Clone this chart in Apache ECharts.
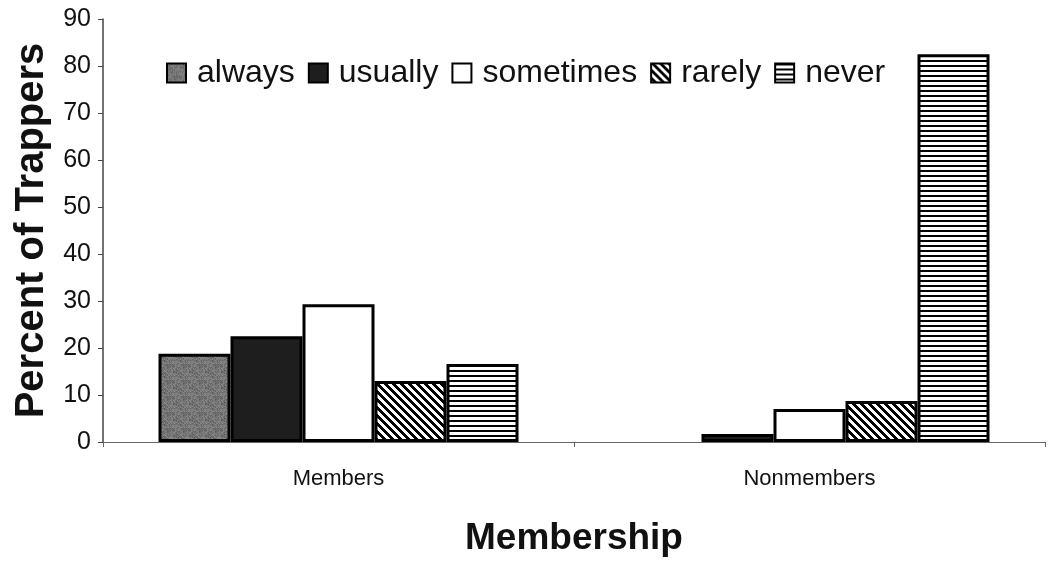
<!DOCTYPE html>
<html>
<head>
<meta charset="utf-8">
<script src="https://cdn.jsdelivr.net/npm/echarts@6/dist/echarts.min.js"></script>
<style>
  html, body { margin: 0; padding: 0; background: #fff; }
  #chart { width: 1050px; height: 562px; }
</style>
</head>
<body>
<div id="chart"></div>
<script>
// Survey answers by trapper membership (percent of respondents)
const categories = ['Members', 'Nonmembers'];
const responses = ['always', 'usually', 'sometimes', 'rarely', 'never'];
const always    = [18.8, 0];
const usually   = [22.5, 1.7];
const sometimes = [29.3, 7.0];
const rarely    = [13.0, 8.7];
const never     = [16.6, 82.5];
const yTicks = { min: 0, max: 90, interval: 10 };

const FONT = '"Liberation Sans", Arial, sans-serif';

// Fill textures drawn into small canvases and tiled by ECharts
function makeTile(w, h, painter) {
  const c = document.createElement('canvas');
  c.width = w; c.height = h;
  const ctx = c.getContext('2d');
  const img = ctx.createImageData(w, h);
  for (let y = 0; y < h; y++) {
    for (let x = 0; x < w; x++) {
      const v = painter(x, y);
      const i = (y * w + x) * 4;
      img.data[i] = img.data[i + 1] = img.data[i + 2] = v;
      img.data[i + 3] = 255;
    }
  }
  ctx.putImageData(img, 0, 0);
  return { image: c, repeat: 'repeat' };
}

// speckled grey
const greyTex = makeTile(16, 16, (x, y) => {
  const h = Math.sin(x * 12.9898 + y * 78.233) * 43758.5453;
  const f = h - Math.floor(h);
  return 95 + Math.round(f * 45);
});
// back-slash diagonal hatching
const diagTex = makeTile(8, 8, (x, y) => (((x - y) % 8 + 8) % 8) < 4 ? 0 : 255);
// horizontal stripes
const horizTex = makeTile(4, 5, (x, y) => y < 2 ? 0 : 255);

const fills = [greyTex, '#1e1e1e', '#ffffff', diagTex, horizTex];
const values = [always, usually, sometimes, rarely, never];

const series = responses.map((name, k) => ({
  name: name,
  type: 'bar',
  barWidth: 72,
  barGap: '0%',
  itemStyle: { color: fills[k], borderColor: '#000', borderWidth: 3 },
  data: values[k].map(v => v === 0 ? { value: v, itemStyle: { borderWidth: 0 } } : v)
}));

const chart = echarts.init(document.getElementById('chart'), null, { renderer: 'canvas' });
chart.setOption({
  animation: false,
  backgroundColor: '#fff',
  textStyle: { fontFamily: FONT, color: '#111' },
  grid: { left: 103, right: 5, top: 19, bottom: 120, containLabel: false, outerBoundsMode: 'none' },
  legend: {
    data: responses,
    left: 161,
    top: 52,
    itemWidth: 19,
    itemHeight: 19,
    itemGap: 13,
    icon: 'rect',
    textStyle: { fontFamily: FONT, fontSize: 32, color: '#111', padding: [0, 0, 0, 6] }
  },
  xAxis: {
    type: 'category',
    data: categories,
    name: 'Membership',
    nameLocation: 'middle',
    nameGap: 78,
    nameTextStyle: { fontFamily: FONT, fontSize: 37, fontWeight: 'bold', color: '#111' },
    axisLine: { lineStyle: { color: '#666', width: 1 } },
    axisTick: { show: true, length: 5, lineStyle: { color: '#666' } },
    axisLabel: { fontFamily: FONT, fontSize: 22, color: '#111', margin: 26 }
  },
  yAxis: {
    type: 'value',
    min: yTicks.min,
    max: yTicks.max,
    interval: yTicks.interval,
    name: 'Percent of Trappers',
    nameLocation: 'middle',
    nameGap: 46,
    nameTextStyle: { fontFamily: FONT, fontSize: 40, fontWeight: 'bold', color: '#111' },
    axisLine: { show: true, lineStyle: { color: '#444', width: 1.5 } },
    axisTick: { show: true, length: 5, lineStyle: { color: '#444' } },
    splitLine: { show: false },
    axisLabel: { fontFamily: FONT, fontSize: 25, color: '#111', margin: 12 }
  },
  series: series
});
</script>
</body>
</html>
